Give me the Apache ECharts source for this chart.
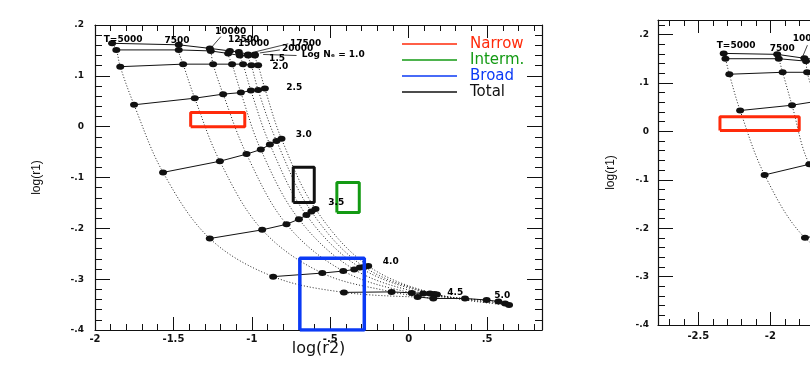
<!DOCTYPE html>
<html>
<head>
<meta charset="utf-8">
<title>log(r1) vs log(r2)</title>
<script src="https://cdn.jsdelivr.net/npm/echarts@6/dist/echarts.min.js"></script>
<style>
  html, body { margin: 0; padding: 0; background: #fff; }
  #chart { width: 810px; height: 372px; }
</style>
</head>
<body>
<div id="chart"></div>
<script>
// model grid: rows = log Ne, columns = temperature
const logNe = ['1.0', '1.5', '2.0', '2.5', '3.0', '3.5', '4.0', '4.5', '5.0'];
const temps = [5000, 7500, 10000, 12500, 15000, 17500, 20000];

// left panel, log(r2) and log(r1) of each model
const leftR2 = [
  [-1.891, -1.466, -1.268, -1.140, -1.083, -1.024, -0.981],
  [-1.864, -1.466, -1.262, -1.151, -1.077, -1.024, -0.981],
  [-1.839, -1.438, -1.247, -1.126, -1.056, -1.003, -0.960],
  [-1.751, -1.364, -1.183, -1.070, -1.006, -0.960, -0.917],
  [-1.566, -1.204, -1.034, -0.943, -0.885, -0.843, -0.811],
  [-1.268, -0.934, -0.779, -0.700, -0.652, -0.620, -0.594],
  [-0.864, -0.551, -0.417, -0.347, -0.311, -0.283, -0.258],
  [-0.413, -0.109, 0.019, 0.093, 0.136, 0.163, 0.180],
  [0.057, 0.157, 0.359, 0.497, 0.572, 0.615, 0.640]
];
const leftR1 = [
  [0.164, 0.161, 0.154, 0.149, 0.147, 0.142, 0.142],
  [0.151, 0.151, 0.149, 0.144, 0.140, 0.140, 0.140],
  [0.118, 0.123, 0.123, 0.123, 0.123, 0.121, 0.121],
  [0.043, 0.056, 0.064, 0.067, 0.071, 0.072, 0.075],
  [-0.090, -0.068, -0.054, -0.045, -0.035, -0.028, -0.024],
  [-0.220, -0.203, -0.192, -0.182, -0.174, -0.167, -0.162],
  [-0.295, -0.288, -0.284, -0.281, -0.277, -0.276, -0.274],
  [-0.326, -0.325, -0.327, -0.328, -0.328, -0.329, -0.330],
  [-0.335, -0.338, -0.338, -0.341, -0.344, -0.348, -0.351]
];

// right panel (only the part that shows in the window)
const rightR2 = [
  [-2.324, -1.953, -1.764, -1.640],
  [-2.312, -1.942, -1.752, -1.640],
  [-2.285, -1.915, -1.745, -1.620],
  [-2.210, -1.850, -1.680],
  [-2.040, -1.730, -1.530],
  [-1.760, -1.430],
  [-1.360]
];
const rightR1 = [
  [0.161, 0.159, 0.151, 0.147],
  [0.150, 0.150, 0.145, 0.142],
  [0.118, 0.122, 0.122, 0.122],
  [0.043, 0.054, 0.062],
  [-0.090, -0.068, -0.054],
  [-0.220, -0.203],
  [-0.295]
];

// observed line-ratio boxes
const boxNames = ['Narrow', 'Interm.', 'Broad', 'Total'];
const boxR2 = [[-1.39, -1.045], [-0.458, -0.315], [-0.694, -0.283], [-0.736, -0.602]];
const boxR1 = [[0.0, 0.028], [-0.169, -0.110], [-0.4, -0.259], [-0.149, -0.080]];
const rightBoxR2 = [-2.35, -1.80];
const rightBoxR1 = [0.002, 0.030];

// annotation texts and where they sit (data coords)
const leftNotes = ['T=5000', '7500', '10000', '12500', '15000', '17500', '20000', 'Log Nₑ = 1.0',
  '1.5', '2.0', '2.5', '3.0', '3.5', '4.0', '4.5', '5.0'];
const leftNoteAt = [[-1.821, 0.171], [-1.477, 0.170], [-1.135, 0.186], [-1.052, 0.172], [-0.988, 0.163],
  [-0.657, 0.164], [-0.708, 0.153], [-0.481, 0.142], [-0.839, 0.134], [-0.819, 0.118], [-0.730, 0.077],
  [-0.669, -0.016], [-0.462, -0.150], [-0.114, -0.266], [0.297, -0.327], [0.597, -0.333]];
const leftLeaders = [
  [[-1.198, 0.177], [-1.260, 0.155]],
  [[-0.768, 0.163], [-0.981, 0.147]],
  [[-0.821, 0.151], [-0.949, 0.145]],
  [[-0.715, 0.140], [-0.928, 0.142]]
];
const rightNotes = ['T=5000', '7500', '10000'];
const rightNoteAt = [[-2.238, 0.178], [-1.917, 0.170], [-1.736, 0.191]];
const rightLeaders = [[[-1.743, 0.178], [-1.778, 0.153]]];

const boxColors = ['#ff2a0a', '#139a13', '#0b3af5', '#111111'];
const ink = '#111';

function tickText(v) {
  if (Math.abs(v) < 1e-9) return '0';
  return String(+v.toFixed(2)).replace('0.', '.');
}

function axis(extra) {
  return Object.assign({
    type: 'value',
    splitLine: { show: false },
    axisLine: { show: true, onZero: false, lineStyle: { color: ink, width: 1.2 } },
    axisTick: { show: true, inside: true, length: 13, lineStyle: { color: ink } },
    minorTick: { show: true, splitNumber: 5, length: 6, lineStyle: { color: ink } },
    axisLabel: { color: ink, fontFamily: 'DejaVu Sans', fontWeight: 'bold', fontSize: 10, formatter: tickText }
  }, extra);
}
const noLabel = { show: false };
const yTick = { show: true, inside: true, length: 15, lineStyle: { color: ink } };
const yMinor = { show: true, splitNumber: 5, length: 7, lineStyle: { color: ink } };

function gridSeries(r2, r1, xi, yi) {
  const out = [];
  // dotted lines of constant temperature
  const nCols = Math.max(...r2.map(r => r.length));
  for (let j = 0; j < nCols; j++) {
    const pts = [];
    r2.forEach((row, i) => { if (row[j] !== undefined) pts.push([row[j], r1[i][j]]); });
    out.push({
      type: 'line', xAxisIndex: xi, yAxisIndex: yi, data: pts, smooth: 0.35,
      showSymbol: false, symbol: 'none', silent: true, z: 2,
      lineStyle: { color: '#222', width: 1, type: [1, 2] }
    });
  }
  // solid lines of constant density, with the model points
  r2.forEach((row, i) => {
    out.push({
      type: 'line', name: 'log Ne ' + logNe[i], xAxisIndex: xi, yAxisIndex: yi,
      data: row.map((x, j) => [x, r1[i][j]]),
      symbol: 'circle', symbolSize: [8, 6], silent: true, z: 3,
      itemStyle: { color: ink }, lineStyle: { color: ink, width: 1 }
    });
  });
  return out;
}

function box(name, xs, ys, color, xi, yi, width) {
  return {
    type: 'line', name: name, xAxisIndex: xi, yAxisIndex: yi, symbol: 'none', silent: true, z: 5,
    data: [[xs[0], ys[0]], [xs[1], ys[0]], [xs[1], ys[1]], [xs[0], ys[1]], [xs[0], ys[0]]],
    lineStyle: { color: color, width: width }, itemStyle: { color: color }
  };
}

function notes(texts, at, xi, yi) {
  return {
    type: 'scatter', xAxisIndex: xi, yAxisIndex: yi, symbolSize: 1, silent: true, z: 6,
    itemStyle: { color: 'rgba(0,0,0,0)', opacity: 1 },
    data: texts.map((t, k) => ({ name: t, value: at[k] })),
    label: { show: true, position: 'inside', formatter: '{b}', color: '#000', opacity: 1,
      fontFamily: 'DejaVu Sans', fontWeight: 'bold', fontSize: 9 },
    labelLayout: { hideOverlap: false }
  };
}

function leaders(list, xi, yi) {
  return list.map(seg => ({
    type: 'line', xAxisIndex: xi, yAxisIndex: yi, data: seg, symbol: 'none', silent: true, z: 4,
    lineStyle: { color: ink, width: 0.8 }
  }));
}

const series = [].concat(
  gridSeries(leftR2, leftR1, 0, 0),
  gridSeries(rightR2, rightR1, 2, 2),
  boxNames.map((n, k) => box(n, boxR2[k], boxR1[k], boxColors[k], 0, 0, k === 2 ? 3.5 : 3)),
  [box('Narrow', rightBoxR2, rightBoxR1, boxColors[0], 2, 2, 3)],
  [notes(leftNotes, leftNoteAt, 0, 0), notes(rightNotes, rightNoteAt, 2, 2)],
  leaders(leftLeaders, 0, 0),
  leaders(rightLeaders, 2, 2)
);

const chart = echarts.init(document.getElementById('chart'));
chart.setOption({
  animation: false,
  backgroundColor: '#fff',
  grid: [
    { left: 95, top: 25, width: 447, height: 305, outerBoundsMode: 'none' },
    { left: 658, top: 20, width: 500, height: 305, outerBoundsMode: 'none' }
  ],
  legend: {
    left: 397, top: 31, orient: 'vertical', icon: 'rect', itemWidth: 55, itemHeight: 1.5, itemGap: 0,
    textStyle: { fontFamily: 'DejaVu Sans', fontSize: 15, lineHeight: 16, padding: [0, 0, 0, 8] },
    data: boxNames.map((n, k) => ({ name: n, textStyle: { color: boxColors[k] } })),
    selectedMode: false
  },
  xAxis: [
    axis({ gridIndex: 0, position: 'bottom', min: -2, max: 0.85, interval: 0.5,
      name: 'log(r2)', nameLocation: 'middle', nameGap: 11, nameMoveOverlap: false,
      nameTextStyle: { fontFamily: 'DejaVu Sans', fontSize: 16, color: ink },
      axisLabel: { color: ink, fontFamily: 'DejaVu Sans', fontWeight: 'bold', fontSize: 10,
        formatter: tickText, showMaxLabel: false, margin: 4 } }),
    axis({ gridIndex: 0, position: 'top', min: -2, max: 0.85, interval: 0.5, axisLabel: noLabel }),
    axis({ gridIndex: 1, position: 'bottom', min: -2.78, max: 0.69, splitNumber: 6,
      name: 'log(r2)', nameLocation: 'middle', nameGap: 11, nameMoveOverlap: false,
      nameTextStyle: { fontFamily: 'DejaVu Sans', fontSize: 16, color: ink },
      axisLabel: { color: ink, fontFamily: 'DejaVu Sans', fontWeight: 'bold', fontSize: 10,
        formatter: tickText, showMinLabel: false, showMaxLabel: false, margin: 6 } }),
    axis({ gridIndex: 1, position: 'top', min: -2.78, max: 0.69, splitNumber: 6, axisLabel: noLabel })
  ],
  yAxis: [
    axis({ gridIndex: 0, position: 'left', min: -0.4, max: 0.2, interval: 0.1,
      name: 'log(r1)', nameLocation: 'middle', nameGap: 52, nameRotate: 90, nameMoveOverlap: false,
      nameTextStyle: { fontFamily: 'Liberation Sans', fontSize: 12, color: ink },
      axisTick: yTick, minorTick: yMinor,
      axisLabel: { color: ink, fontFamily: 'DejaVu Sans', fontWeight: 'bold', fontSize: 9,
        formatter: tickText, margin: 11 } }),
    axis({ gridIndex: 0, position: 'right', min: -0.4, max: 0.2, interval: 0.1, axisLabel: noLabel,
      axisTick: yTick, minorTick: yMinor }),
    axis({ gridIndex: 1, position: 'left', min: -0.4, max: 0.23, interval: 0.1,
      name: 'log(r1)', nameLocation: 'middle', nameGap: 41, nameRotate: 90, nameMoveOverlap: false,
      nameTextStyle: { fontFamily: 'Liberation Sans', fontSize: 12, color: ink },
      axisTick: yTick, minorTick: yMinor,
      axisLabel: { color: ink, fontFamily: 'DejaVu Sans', fontWeight: 'bold', fontSize: 9,
        formatter: tickText, showMaxLabel: false, margin: 9 } }),
    axis({ gridIndex: 1, position: 'right', min: -0.4, max: 0.23, interval: 0.1, axisLabel: noLabel,
      axisTick: yTick, minorTick: yMinor })
  ],
  series: series
});
</script>
</body>
</html>
